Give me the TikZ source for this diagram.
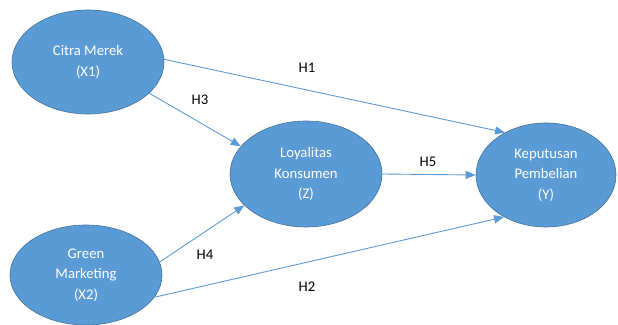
\documentclass[tikz,border=0pt]{standalone}
\usepackage{fontspec}
\setmainfont{Carlito}
\usetikzlibrary{shapes.geometric,arrows.meta}
\definecolor{varfill}{HTML}{5B9BD5}
\definecolor{varline}{HTML}{41719C}
\definecolor{pathline}{HTML}{5B9BD5}
\begin{document}
\begin{tikzpicture}[x=1pt,y=1pt,
  var/.style={ellipse, fill=varfill, draw=varline, line width=0.6pt, inner sep=0pt,
    text=white, align=center, font=\fontsize{14.7}{20.5}\selectfont},
  path/.style={draw=pathline, line width=0.9pt, -{Triangle[length=10pt,width=8pt]}},
  hyp/.style={font=\fontsize{14.7}{18}\selectfont, text=black}]

  \useasboundingbox (0,0) rectangle (618,324);

	%variables
 \node[var, minimum width=152, minimum height=104] (citra) at (88,262) {Citra Merek\\(X1)};
 \node[var, minimum width=152, minimum height=100] (green) at (86,49) {Green\\Marketing\\(X2)};
 \node[var, minimum width=152, minimum height=106] (loyal) at (306,150) {Loyalitas\\Konsumen\\(Z)};
 \node[var, minimum width=140, minimum height=104] (keputusan) at (546,149) {Keputusan\\Pembelian\\(Y)};

	%paths
 \draw[path] (citra.2) -- (keputusan.134);
 \draw[path] (citra.-27) -- (loyal.157);
 \draw[path] (green.10) -- (loyal.207);
 \draw[path] (green.-18) -- (keputusan.225);
 \draw[path] (loyal.east) -- (keputusan.west);

	%hypotheses
    \foreach \x/\y/\name in { 307/256/H1, 307/37/H2, 200/224/H3, 205/69/H4, 428/162/H5 }{
         \node[hyp] (\name) at (\x,\y) {\name};
    }

\end{tikzpicture}
\end{document}
